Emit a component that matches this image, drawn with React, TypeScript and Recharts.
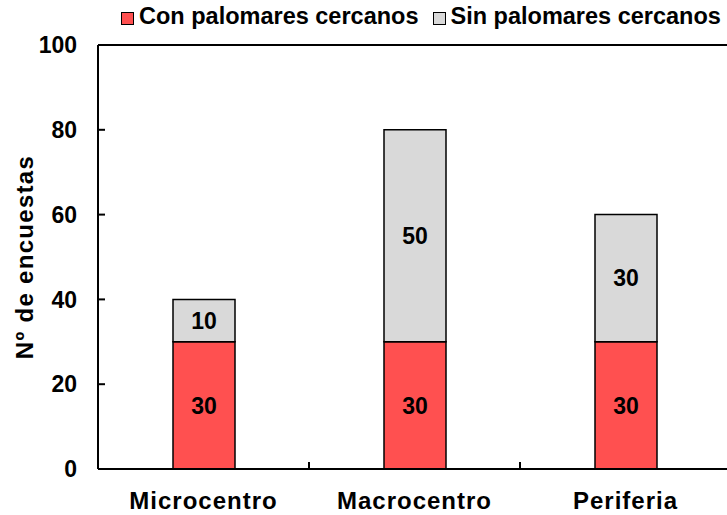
import React from 'react';
import { BarChart, Bar, XAxis, YAxis, LabelList, Legend } from 'recharts';

const categories = ['Microcentro', 'Macrocentro', 'Periferia'];
const conPalomares = [30, 30, 30];
const sinPalomares = [10, 50, 30];
const yTicks = [0, 20, 40, 60, 80, 100];
const seriesNames = ['Con palomares cercanos', 'Sin palomares cercanos'];

const data = categories.map((name, i) => ({
  name,
  con: conPalomares[i],
  sin: sinPalomares[i],
}));

const FONT = '"Liberation Sans", Arial, sans-serif';
const RED = '#FF5050';
const GRAY = '#D9D9D9';

const YTick = (props: any) => {
  const { x, y, payload } = props;
  return (
    <g>
      <line x1={x + 21} x2={x + 28} y1={y} y2={y} stroke="#000" strokeWidth={2} />
      <text x={x} y={y} dy="0.36em" textAnchor="end" fontFamily={FONT} fontWeight="bold" fontSize={23} fill="#000">
        {payload.value}
      </text>
    </g>
  );
};

const XTick = (props: any) => {
  const { x, y, payload, index, visibleTicksCount, width } = props;
  const count = visibleTicksCount || categories.length;
  const halfBand = (Number(width) || 633) / count / 2;
  return (
    <g>
      <text x={x} y={y} dy={40} textAnchor="middle" fontFamily={FONT} fontWeight="bold" fontSize={24} letterSpacing={1} fill="#000">
        {payload.value}
      </text>
      {index < count - 1 && (
        <line x1={x + halfBand} x2={x + halfBand} y1={y} y2={y - 7} stroke="#000" strokeWidth={2} />
      )}
    </g>
  );
};

const LegendContent = (props: any) => {
  const { payload } = props;
  return (
    <div style={{ display: 'flex', alignItems: 'center', fontFamily: FONT, fontWeight: 'bold', fontSize: 23.5, whiteSpace: 'nowrap', color: '#000' }}>
      {(payload || []).map((entry: any, i: number) => (
        <div key={i} style={{ display: 'flex', alignItems: 'center', marginRight: 14 }}>
          <span style={{ display: 'inline-block', width: 11, height: 11, background: entry.color, border: '1px solid #000', marginRight: 5, position: 'relative', top: 2 }} />
          <span>{entry.value}</span>
        </div>
      ))}
    </div>
  );
};

export default function App() {
  return (
    <div style={{ position: 'fixed', left: 0, top: 0, width: 727, height: 515, overflow: 'hidden', background: '#fff' }}>
      <BarChart
        width={731}
        height={515}
        data={data}
        margin={{ top: 44, right: 0, bottom: 0, left: 0 }}
        barSize={62}
      >
        <XAxis
          xAxisId="top"
          orientation="top"
          dataKey="name"
          height={1}
          tick={false}
          tickLine={false}
          axisLine={{ stroke: '#000', strokeWidth: 2 }}
        />
        <XAxis
          dataKey="name"
          height={46}
          tickSize={0}
          tickMargin={0}
          tickLine={false}
          interval={0}
          axisLine={{ stroke: '#000', strokeWidth: 2 }}
          tick={<XTick />}
        />
        <YAxis
          width={98}
          domain={[0, 100]}
          ticks={yTicks}
          interval={0}
          tickSize={0}
          tickMargin={21}
          tickLine={false}
          axisLine={{ stroke: '#000', strokeWidth: 2 }}
          tick={<YTick />}
          label={{
            value: 'Nº de encuestas',
            angle: -90,
            position: 'center',
            dx: -25,
            style: { fontFamily: FONT, fontWeight: 'bold', fontSize: 24, fill: '#000', letterSpacing: 1.3 },
          }}
        />
        <Legend
          layout="vertical"
          align="center"
          verticalAlign="middle"
          content={<LegendContent />}
          wrapperStyle={{ top: 3, left: 121, width: 'auto' }}
        />
        <Bar dataKey="con" name={seriesNames[0]} stackId="a" fill={RED} stroke="#000" strokeWidth={1.5} isAnimationActive={false}>
          <LabelList dataKey="con" position="center" fill="#000" fontFamily={FONT} fontWeight="bold" fontSize={23} />
        </Bar>
        <Bar dataKey="sin" name={seriesNames[1]} stackId="a" fill={GRAY} stroke="#000" strokeWidth={1.5} isAnimationActive={false}>
          <LabelList dataKey="sin" position="center" fill="#000" fontFamily={FONT} fontWeight="bold" fontSize={23} />
        </Bar>
      </BarChart>
    </div>
  );
}
